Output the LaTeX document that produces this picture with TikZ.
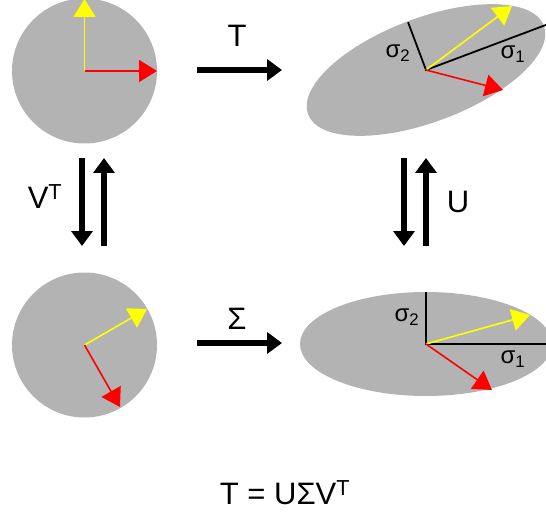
\documentclass[tikz,border=0pt]{standalone}
\usepackage{fontspec}
\setmainfont{Liberation Sans}
\usetikzlibrary{arrows.meta, calc}
\definecolor{SVDGray}{RGB}{179, 179, 179}
\definecolor{SVDYellow}{RGB}{255, 255, 0}
\definecolor{SVDRed}{RGB}{255, 0, 0}

\tikzset{
  vecy/.style={SVDYellow, line width=1.6pt, -{Triangle[length=18pt, width=22pt]}},
  vecr/.style={SVDRed, line width=1.6pt, -{Triangle[length=18pt, width=22pt]}},
  axis/.style={black, line width=1.8pt},
  maparrow/.style={black, line width=6.5pt, -{Triangle[length=15pt, width=21pt]}},
  biglabel/.style={font=\fontsize{31}{34}\selectfont},
  siglabel/.style={font=\fontsize{24}{27}\selectfont}
}

\begin{document}
\begin{tikzpicture}[x=1pt,y=1pt]
  \path[use as bounding box] (0,0) rectangle (546,515);
  \clip (0,0) rectangle (546,515);

  % unit circle, original
  \coordinate (c1) at (84.5,444);
  \fill[SVDGray] (c1) circle (72.5);
  \coordinate (c1y) at (84.5,516);
  \coordinate (c1r) at (157,444);
  \draw[vecy] (c1) -- (c1y);
  \draw[vecr] (c1) -- (c1r);

  % after V^T
  \coordinate (c2) at (84.5,170);
  \fill[SVDGray] (c2) circle (72.5);
  \coordinate (c2y) at (147,206);
  \coordinate (c2r) at (120,108);
  \draw[vecy] (c2) -- (c2y);
  \draw[vecr] (c2) -- (c2r);

  % after Sigma
  \coordinate (c3) at (426,171);
  \fill[SVDGray] (c3) ellipse [x radius=126, y radius=52];
  \coordinate (c3a) at (546,171);
  \coordinate (c3b) at (426,223);
  \draw[axis] (c3b) -- (c3) -- (c3a);
  \coordinate (c3y) at (530,200);
  \coordinate (c3r) at (492,125);
  \draw[vecy] (c3) -- (c3y);
  \draw[vecr] (c3) -- (c3r);
  \node[siglabel] (s2b) at (407,198) {σ\textsubscript{2}};
  \node[siglabel] (s1b) at (513,156) {σ\textsubscript{1}};

  % after T = U Sigma V^T
  \coordinate (c4) at (426,445);
  \fill[SVDGray, rotate around={20.6:(c4)}] (c4) ellipse [x radius=126, y radius=52];
  \coordinate (c4a) at ($(c4)+(20.6:140)$);
  \coordinate (c4b) at ($(c4)+(110.6:51)$);
  \draw[axis] (c4b) -- (c4) -- (c4a);
  \coordinate (c4y) at (512,509);
  \coordinate (c4r) at (503,425);
  \draw[vecy] (c4) -- (c4y);
  \draw[vecr] (c4) -- (c4r);
  \node[siglabel] (s2t) at (398,462) {σ\textsubscript{2}};
  \node[siglabel] (s1t) at (513,461) {σ\textsubscript{1}};

  % maps between the four pictures
  \coordinate (tA) at (197,445);
  \coordinate (tB) at (282,445);
  \draw[maparrow] (tA) -- (tB);
  \node[biglabel] (lT) at (237,479) {T};

  \coordinate (sA) at (197,172);
  \coordinate (sB) at (282,172);
  \draw[maparrow] (sA) -- (sB);
  \node[biglabel] (lS) at (237,196) {Σ};

  \coordinate (vA) at (82,357);
  \coordinate (vB) at (82,269);
  \coordinate (vC) at (104,269);
  \coordinate (vD) at (104,357);
  \draw[maparrow] (vA) -- (vB);
  \draw[maparrow] (vC) -- (vD);
  \node[biglabel] (lV) at (45,318) {V\textsuperscript{T}};

  \coordinate (uA) at (404,357);
  \coordinate (uB) at (404,269);
  \coordinate (uC) at (426,269);
  \coordinate (uD) at (426,357);
  \draw[maparrow] (uA) -- (uB);
  \draw[maparrow] (uC) -- (uD);
  \node[biglabel] (lU) at (458,313) {U};

  \node[biglabel] (eq) at (285,22) {T = UΣV\textsuperscript{T}};
\end{tikzpicture}
\end{document}
